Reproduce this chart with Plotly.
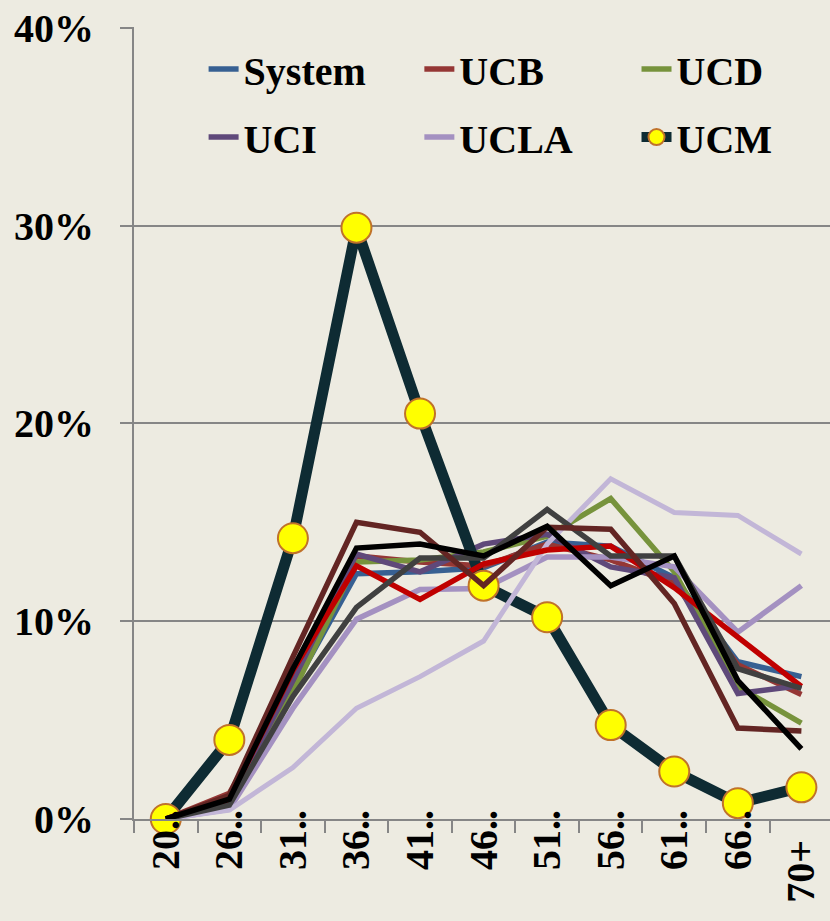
import plotly.graph_objects as go

categories = ["20..", "26..", "31..", "36..", "41..", "46..", "51..", "56..", "61..", "66..", "70+"]
tick_text = ["20..", "26..", "31..", "36..", "41..", "46..", "51..", "56..", "61..", "66..", "70+\u00a0\u00a0\u00a0"]
y_tick_vals = [0, 10, 20, 30, 40]
y_tick_text = ["0%", "10%", "20%", "30%", "40%"]

system = [0, 0.9, 6.6, 12.4, 12.5, 12.7, 14.0, 13.8, 12.2, 7.95, 7.2]
ucb = [0, 1.3, 7.0, 13.3, 13.0, 12.8, 13.9, 13.1, 11.9, 7.8, 6.3]
ucd = [0, 0.8, 6.4, 13.0, 13.1, 13.5, 14.3, 16.2, 12.5, 6.7, 4.85]
uci = [0, 0.9, 7.0, 13.4, 12.5, 13.9, 14.4, 12.75, 12.2, 6.35, 6.75]
ucla = [0, 0.5, 5.6, 10.1, 11.6, 11.65, 13.25, 13.25, 12.75, 9.45, 11.8]
ucm = [0, 4.0, 14.2, 29.9, 20.5, 11.8, 10.2, 4.75, 2.4, 0.8, 1.6]
ucr = [0, 0.45, 2.6, 5.6, 7.2, 9.0, 13.9, 17.2, 15.5, 15.35, 13.4]
ucsb = [0, 1.0, 7.5, 12.8, 11.1, 12.9, 13.6, 13.8, 11.7, 9.2, 6.7]
ucsc = [0, 0.7, 6.2, 10.7, 13.2, 13.2, 15.65, 13.3, 13.3, 7.6, 6.6]
ucsd = [0, 1.2, 8.2, 15.0, 14.5, 11.8, 14.75, 14.65, 10.9, 4.6, 4.45]
ucsf = [0, 1.0, 7.6, 13.7, 13.9, 13.3, 14.8, 11.8, 13.3, 7.0, 3.55]

FONT = "Liberation Serif"
BG = "#EDEBE1"
GRID = "#868686"

fig = go.Figure()

def add_line(name, vals, color, width, legend=None):
    fig.add_trace(go.Scatter(
        x=categories, y=vals, name=name, mode="lines",
        line=dict(color=color, width=width),
        showlegend=legend is not None,
        legend=legend if legend else "legend",
    ))

add_line("System", system, "#376092", 5.5, "legend")
add_line("UCB", ucb, "#953735", 5.5, "legend2")
add_line("UCD", ucd, "#77933C", 5.5, "legend3")
add_line("UCI", uci, "#5F497A", 5.5, "legend4")
add_line("UCLA", ucla, "#A491C1", 5.5, "legend5")
fig.add_trace(go.Scatter(
    x=categories, y=ucm, name="UCM", mode="lines+markers",
    line=dict(color="#0E2B33", width=11),
    marker=dict(color="#FFFF00", size=30, line=dict(color="#C0722A", width=2)),
    legend="legend6", cliponaxis=False,
))
add_line("UCR", ucr, "#C2B6D7", 5)
add_line("UCSB", ucsb, "#C00000", 5.5)
add_line("UCSC", ucsc, "#404040", 5.5)
add_line("UCSD", ucsd, "#632523", 5.5)
add_line("UCSF", ucsf, "#000000", 5.5)

legend_common = dict(
    orientation="h", xanchor="left", yanchor="middle",
    bgcolor="rgba(0,0,0,0)", borderwidth=0,
    font=dict(family=FONT, size=40, color="black", weight="bold"),
)

col_x = [0.100, 0.410, 0.722]
row_y = [0.947, 0.861]

fig.update_layout(
    width=830, height=921,
    margin=dict(l=134, r=0, t=27, b=102),
    paper_bgcolor=BG, plot_bgcolor=BG,
    font=dict(family=FONT, size=40, color="black"),
    legend=dict(x=col_x[0], y=row_y[0], **legend_common),
    legend2=dict(x=col_x[1], y=row_y[0], **legend_common),
    legend3=dict(x=col_x[2], y=row_y[0], **legend_common),
    legend4=dict(x=col_x[0], y=row_y[1], **legend_common),
    legend5=dict(x=col_x[1], y=row_y[1], **legend_common),
    legend6=dict(x=col_x[2], y=row_y[1], **legend_common),
    xaxis=dict(
        type="category", range=[-0.5, 10.45], automargin=False,
        tickmode="array", tickvals=categories, ticktext=tick_text,
        tickangle=-90, tickson="boundaries",
        ticks="outside", ticklen=12, tickwidth=2, tickcolor=GRID,
        showline=True, linecolor=GRID, linewidth=2,
        showgrid=False, zeroline=False,
        tickfont=dict(family=FONT, size=40, color="black", weight="bold"),
        ticklabelstandoff=-27,
    ),
    yaxis=dict(
        range=[0, 40.05], automargin=False,
        tickmode="array", tickvals=y_tick_vals, ticktext=y_tick_text,
        ticks="outside", ticklen=12, tickwidth=2, tickcolor=GRID,
        showline=True, linecolor=GRID, linewidth=2,
        showgrid=True, gridcolor=GRID, gridwidth=2,
        zeroline=False, ticklabeloverflow="allow",
        tickfont=dict(family=FONT, size=40, color="black", weight="bold"),
        ticklabelstandoff=18,
    ),
)

fig.write_html(
    "out.html",
    config={"displayModeBar": False},
    post_script="document.body.style.margin='0';document.body.style.backgroundColor='#EDEBE1';",
)
